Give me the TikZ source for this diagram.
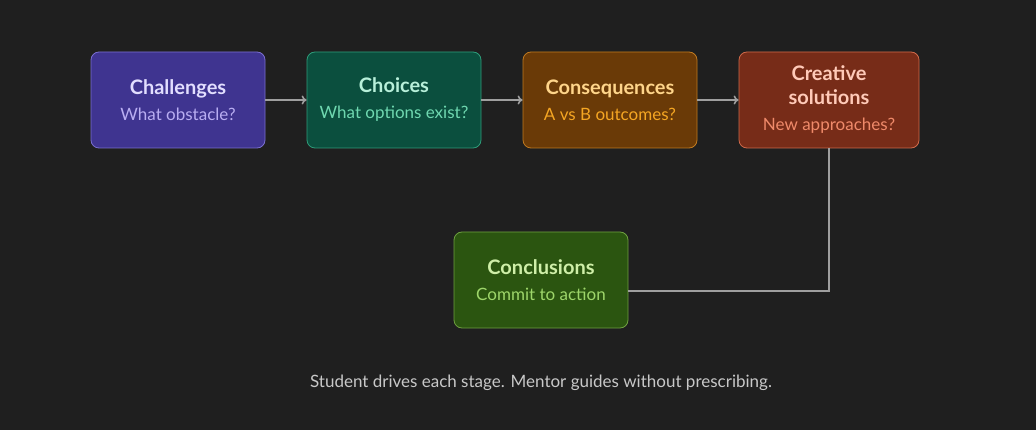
\documentclass[tikz,border=0pt]{standalone}
\usepackage{fontspec}
\setmainfont{Lato}
\usetikzlibrary{arrows.meta}
\begin{document}
\begin{tikzpicture}[x=1pt,y=-1pt,
 box/.style={rounded corners=8pt,line width=0.8pt,minimum width=174pt,minimum height=96pt,align=center,inner sep=0pt,font=\fontsize{20}{24}\selectfont},
 conn/.style={draw=gray!75,line width=1.6pt,-{To[length=5pt,width=9pt]}}]
\newcommand{\ttl}[2]{\textcolor{#1}{\fontsize{20}{24}\selectfont\bfseries #2}}
\newcommand{\sbt}[2]{\textcolor{#1}{\fontsize{17}{20}\selectfont #2}}
\fill[fill={rgb,255:red,31;green,31;blue,31}] (0,0) rectangle (1036,430);
\definecolor{f1}{HTML}{3F3490}\definecolor{b1}{HTML}{7A6FD0}\definecolor{t1}{HTML}{E2DEFF}\definecolor{s1}{HTML}{B9AEF2}
\definecolor{f2}{HTML}{0B4F3E}\definecolor{b2}{HTML}{2E9D7A}\definecolor{t2}{HTML}{B8F0DA}\definecolor{s2}{HTML}{6FD8B0}
\definecolor{f3}{HTML}{6A3A07}\definecolor{b3}{HTML}{C07A20}\definecolor{t3}{HTML}{FFD58A}\definecolor{s3}{HTML}{F5A623}
\definecolor{f4}{HTML}{772C18}\definecolor{b4}{HTML}{D06A4A}\definecolor{t4}{HTML}{FFCAB8}\definecolor{s4}{HTML}{F08A6A}
\definecolor{f5}{HTML}{2B5510}\definecolor{b5}{HTML}{6EA040}\definecolor{t5}{HTML}{CFEFA8}\definecolor{s5}{HTML}{9ED66A}
\node[box,fill=f1,draw=b1] (a) at (178,100) {\ttl{t1}{Challenges}\\[2pt]\sbt{s1}{What obstacle?}};
\node[box,fill=f2,draw=b2] (b) at (394,100) {\ttl{t2}{Choices}\\[2pt]\sbt{s2}{What options exist?}};
\node[box,fill=f3,draw=b3] (c) at (610,100) {\ttl{t3}{Consequences}\\[2pt]\sbt{s3}{A vs B outcomes?}};
\node[box,fill=f4,draw=b4,minimum width=180pt] (d) at (829,100) {\ttl{t4}{Creative}\\\ttl{t4}{solutions}\\[2pt]\sbt{s4}{New approaches?}};
\node[box,fill=f5,draw=b5] (e) at (541,280) {\ttl{t5}{Conclusions}\\[2pt]\sbt{s5}{Commit to action}};
\draw[conn] (a) -- (b);
\draw[conn] (b) -- (c);
\draw[conn] (c) -- (d);
\coordinate (k) at (829,291);
\draw[draw=gray!75,line width=1.6pt] (d.south) -- (k) -- (e.east |- k);
\node[text={rgb,255:red,200;green,200;blue,200},font=\fontsize{17}{20}\selectfont] (f) at (541,383) {Student drives each stage. Mentor guides without prescribing.};
\end{tikzpicture}
\end{document}
